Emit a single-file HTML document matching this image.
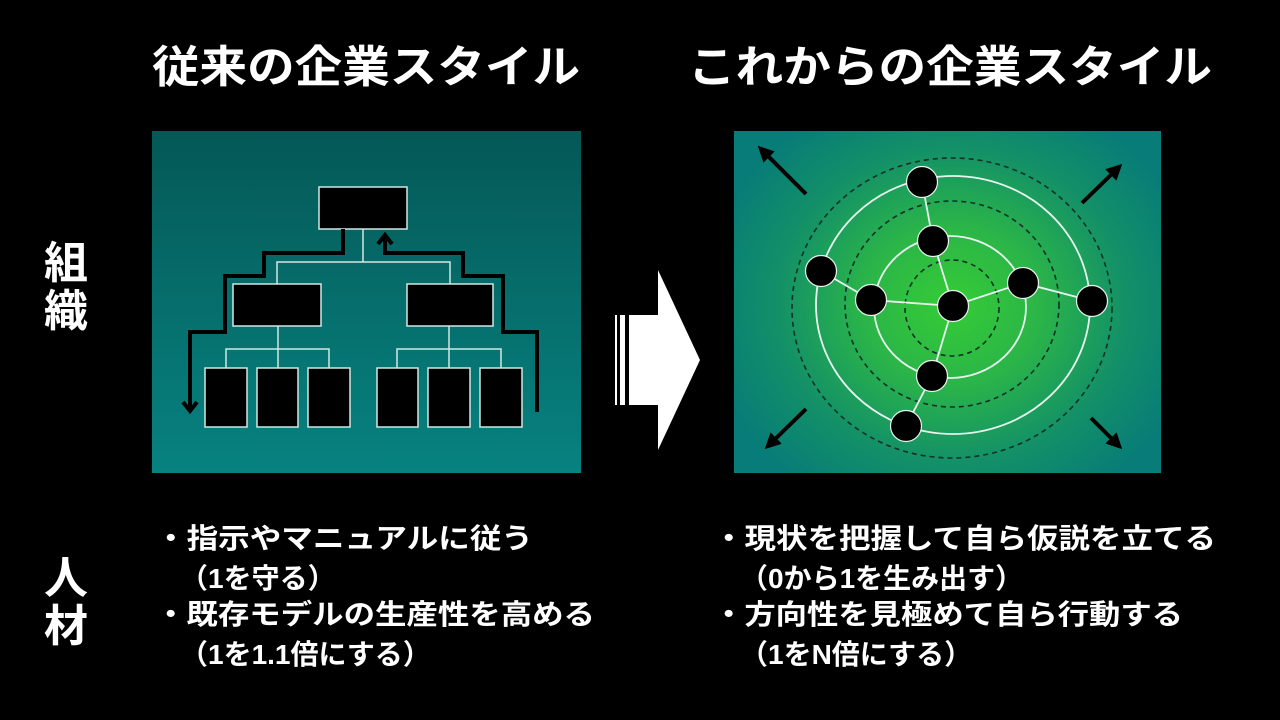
<!DOCTYPE html>
<html><head><meta charset="utf-8"><style>
html,body{margin:0;padding:0;background:#000;}
svg{display:block}
text{font-family:"Liberation Sans","Noto Sans CJK JP",sans-serif;font-weight:bold;fill:#fff;}
</style></head><body>
<svg width="1280" height="720" viewBox="0 0 1280 720" xmlns="http://www.w3.org/2000/svg">
<defs>
<linearGradient id="lg" x1="0" y1="0" x2="0" y2="1">
<stop offset="0" stop-color="#045856"/><stop offset="0.5" stop-color="#066e6c"/><stop offset="1" stop-color="#078280"/>
</linearGradient>
<radialGradient id="rg" cx="952" cy="305" r="250" gradientUnits="userSpaceOnUse" gradientTransform="translate(952 305) scale(1 0.9) translate(-952 -305)">
<stop offset="0" stop-color="#35cc35"/><stop offset="0.35" stop-color="#2bb548"/><stop offset="0.7" stop-color="#139068"/><stop offset="1" stop-color="#077c78"/>
</radialGradient>
<marker id="ah2" markerWidth="4" markerHeight="4" refX="2.5" refY="2" orient="auto" markerUnits="strokeWidth"><path d="M0,0 L4,2 L0,4Z" fill="#000"/></marker>
</defs>

<text x="152" y="82" font-size="44" textLength="428" lengthAdjust="spacingAndGlyphs">従来の企業スタイル</text>
<text x="688" y="82" font-size="44" textLength="524" lengthAdjust="spacingAndGlyphs">これからの企業スタイル</text>
<text x="44" y="278" font-size="44">組</text>
<text x="44" y="326" font-size="44">織</text>
<text x="44" y="593" font-size="44">人</text>
<text x="44" y="641" font-size="44">材</text>

<rect x="152" y="131" width="429" height="342" fill="url(#lg)"/>
<g stroke="#cfe8e4" stroke-width="1.5" fill="none">
<path d="M363,229 V262 M277,284 V262 H450 V284"/>
<path d="M278,326 V368 M226,368 V349 H329 V368"/>
<path d="M449,326 V368 M397,368 V349 H501 V368"/>
</g>
<g fill="#000" stroke="#cfe8e4" stroke-width="1.5">
<rect x="319" y="187" width="88" height="42"/>
<rect x="233" y="284" width="88" height="42"/>
<rect x="407" y="284" width="86" height="42"/>
<rect x="205" y="368" width="42" height="59"/>
<rect x="257" y="368" width="41" height="59"/>
<rect x="308" y="368" width="42" height="59"/>
<rect x="377" y="368" width="41" height="59"/>
<rect x="428" y="368" width="42" height="59"/>
<rect x="480" y="368" width="42" height="59"/>
</g>
<g stroke="#000" stroke-width="4" fill="none">
<path d="M343,229 V253 H264 V276 H225 V332 H190 V410"/>
<path d="M183,402 L190,411 L197,402"/>
<path d="M537,412 V332 H503 V276 H463 V253 H385 V236"/>
<path d="M378,244 L385,235 L392,244"/>
</g>

<rect x="615" y="315" width="2" height="90" fill="#fff"/>
<rect x="620" y="315" width="5" height="90" fill="#fff"/>
<path d="M629,315 H658 V270 L700,360 L658,450 V405 H629 Z" fill="#fff"/>

<rect x="734" y="131" width="427" height="342" fill="url(#rg)"/>
<g fill="none" stroke="#10302a" stroke-width="1.6" stroke-dasharray="5,4">
<ellipse cx="952" cy="308" rx="47" ry="48"/>
<ellipse cx="952" cy="304" rx="107" ry="103"/>
<ellipse cx="952" cy="308" rx="160" ry="150"/>
</g>
<g fill="none" stroke="#e8f5ef" stroke-width="1.8">
<ellipse cx="950" cy="307" rx="76" ry="71"/>
<ellipse cx="953" cy="305" rx="137" ry="129"/>
<path d="M922,182 L933,241 L953,306 M821,271 L871,300 L953,306 L1023,283 L1092,301 M953,306 L932,376 L906,426"/>
</g>
<g fill="#000" stroke="#e8f5ef" stroke-width="1.2">
<circle cx="922" cy="182" r="15.5"/>
<circle cx="933" cy="241" r="15.5"/>
<circle cx="821" cy="271" r="15.5"/>
<circle cx="871" cy="300" r="15.5"/>
<circle cx="953" cy="306" r="15.5"/>
<circle cx="1023" cy="283" r="15.5"/>
<circle cx="1092" cy="301" r="15.5"/>
<circle cx="932" cy="376" r="15.5"/>
<circle cx="906" cy="426" r="15.5"/>
</g>
<g stroke="#000" stroke-width="4" fill="none" marker-end="url(#ah2)">
<path d="M806,194 L762,150"/>
<path d="M1082,203 L1118,168"/>
<path d="M806,409 L769,445"/>
<path d="M1091,418 L1118,445"/>
</g>

<g font-size="28">
<text x="155" y="548" textLength="378" lengthAdjust="spacingAndGlyphs">・指示やマニュアルに従う</text>
<text x="180" y="588">（1を守る）</text>
<text x="155" y="624" textLength="440" lengthAdjust="spacingAndGlyphs">・既存モデルの生産性を高める</text>
<text x="180" y="664">（1を1.1倍にする）</text>
<text x="713" y="548" textLength="503" lengthAdjust="spacingAndGlyphs">・現状を把握して自ら仮説を立てる</text>
<text x="740" y="588">（0から1を生み出す）</text>
<text x="713" y="624" textLength="470" lengthAdjust="spacingAndGlyphs">・方向性を見極めて自ら行動する</text>
<text x="740" y="664">（1をN倍にする）</text>
</g>
</svg>
</body></html>
